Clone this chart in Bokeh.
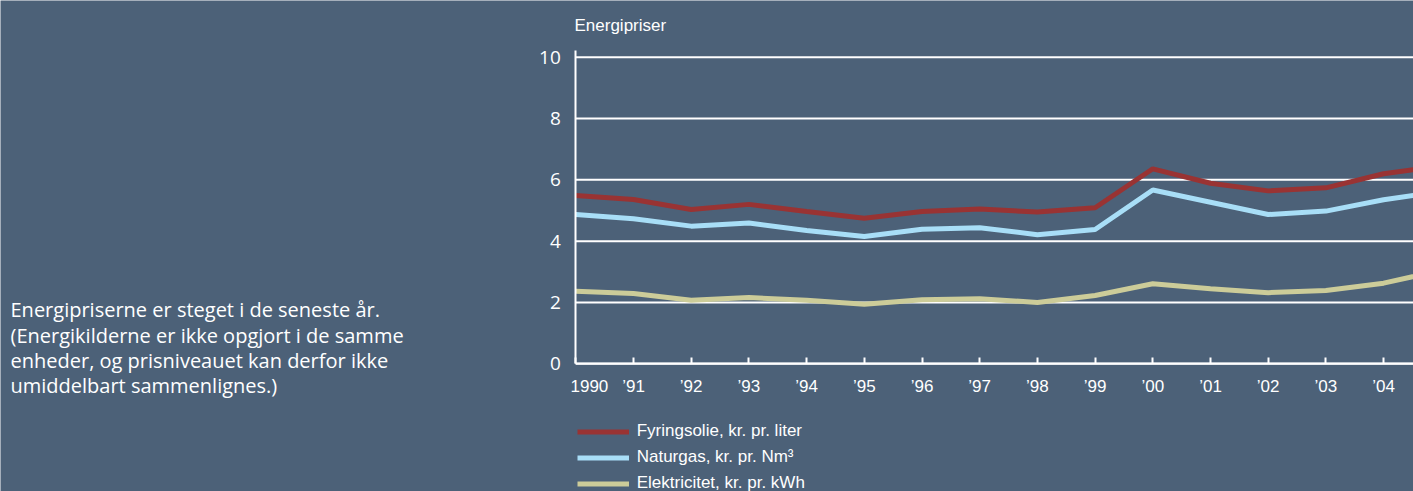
from bokeh.plotting import figure
from bokeh.models import FixedTicker, Label, Legend, LegendItem, Range1d
from bokeh.embed import file_html
from bokeh.resources import INLINE

# ---------------- data ----------------
years = list(range(1990, 2006))
fyringsolie = [5.49, 5.36, 5.03, 5.20, 4.97, 4.75, 4.97, 5.05, 4.95, 5.09, 6.36, 5.89, 5.64, 5.74, 6.20, 6.45]
naturgas = [4.87, 4.73, 4.49, 4.59, 4.35, 4.15, 4.39, 4.44, 4.21, 4.38, 5.67, 5.27, 4.87, 4.98, 5.35, 5.62]
elektricitet = [2.37, 2.29, 2.07, 2.16, 2.07, 1.94, 2.09, 2.12, 2.00, 2.23, 2.61, 2.45, 2.32, 2.39, 2.63, 3.05]
series_names = ["Fyringsolie, kr. pr. liter", "Naturgas, kr. pr. Nm³", "Elektricitet, kr. pr. kWh"]
tick_years = list(range(1990, 2005))
tick_labels = ["1990"] + ["’%02d" % (y % 100) for y in range(1991, 2005)]
y_ticks = [0, 2, 4, 6, 8, 10]
title_text = "Energipriser"
note_lines = [
    "Energipriserne er steget i de seneste år.",
    "(Energikilderne er ikke opgjort i de samme",
    "enheder, og prisniveauet kan derfor ikke",
    "umiddelbart sammenlignes.)",
]

# ---------------- style ----------------
BG = "#4c6178"
RED = "#993333"
BLUE = "#a8def7"
KHAKI = "#cccc99"
WHITE = "#ffffff"
NARROW = "Liberation Sans"
HUMAN = "Open Sans"

W, H = 1413, 491
# page-pixel geometry of the chart frame: year 1990 at x=575.3, 57.7 px per year;
# value 0 at y=363.3, 30.66 px per unit
PX0, PPY = 575.3, 57.7
PY0, PPU = 363.3, 30.66

def dx(px):
    return 1990 + (px - PX0) / PPY

def dy(py):
    return (PY0 - py) / PPU

p = figure(width=W, height=H, x_range=Range1d(dx(0), dx(W)), y_range=Range1d(dy(H), dy(0)),
           output_backend="svg", toolbar_location=None,
           min_border=0, min_border_left=0, min_border_right=0, min_border_top=0, min_border_bottom=0,
           background_fill_color=BG, border_fill_color=BG, outline_line_color=None)

# horizontal grid lines, only to the right of the value axis
p.xgrid.grid_line_color = None
p.ygrid.grid_line_color = None
p.segment(x0=[tick_years[0]] * len(y_ticks), x1=[years[-1] + 5] * len(y_ticks),
          y0=y_ticks, y1=y_ticks, line_color=WHITE, line_width=2)

r1 = p.line(years, fyringsolie, line_color=RED, line_width=5)
r2 = p.line(years, naturgas, line_color=BLUE, line_width=5)
r3 = p.line(years, elektricitet, line_color=KHAKI, line_width=5)

top_value = dy(50)

p.yaxis.fixed_location = tick_years[0]
p.yaxis.bounds = (0, top_value)
p.yaxis.ticker = FixedTicker(ticks=y_ticks)
p.yaxis.axis_line_color = WHITE
p.yaxis.axis_line_width = 2
p.yaxis.major_tick_line_color = None
p.yaxis.major_tick_in = 0
p.yaxis.major_tick_out = 0
p.yaxis.minor_tick_line_color = None
p.yaxis.major_label_standoff = 15
p.yaxis.major_label_text_color = WHITE
p.yaxis.major_label_text_font = HUMAN
p.yaxis.major_label_text_font_size = "19px"

p.xaxis.fixed_location = 0
p.xaxis.bounds = (tick_years[0], years[-1] + 5)
p.xaxis.ticker = FixedTicker(ticks=tick_years)
overrides = {y: lab for y, lab in zip(tick_years, tick_labels)}
overrides[tick_years[0]] = ""
p.xaxis.major_label_overrides = overrides
p.xaxis.axis_line_color = WHITE
p.xaxis.axis_line_width = 2
p.xaxis.major_tick_in = 6
p.xaxis.major_tick_out = 0
p.xaxis.major_tick_line_color = WHITE
p.xaxis.major_tick_line_width = 2
p.xaxis.minor_tick_line_color = None
p.xaxis.major_label_standoff = 13
p.xaxis.major_label_text_color = WHITE
p.xaxis.major_label_text_font = NARROW
p.xaxis.major_label_text_font_size = "17px"

# first year label sits right of its tick, as in the original
p.add_layout(Label(x=dx(570), y=dy(385.8), text=tick_labels[0], text_color=WHITE,
                   text_font=NARROW, text_font_size="17px", text_align="left",
                   text_baseline="middle"))

p.add_layout(Label(x=dx(574), y=dy(25), text=title_text, text_color=WHITE,
                   text_font=NARROW, text_font_size="17px", text_align="left",
                   text_baseline="middle"))

for i, line in enumerate(note_lines):
    p.add_layout(Label(x=dx(10), y=dy(309.2 + 25.3 * i), text=line, text_color=WHITE,
                       text_font=HUMAN, text_font_size="20px", text_align="left",
                       text_baseline="middle"))

legend = Legend(items=[LegendItem(label=series_names[0], renderers=[r1]),
                       LegendItem(label=series_names[1], renderers=[r2]),
                       LegendItem(label=series_names[2], renderers=[r3])],
                location=(576.7, -2.5), orientation="vertical",
                glyph_width=52, glyph_height=21, label_height=21, label_standoff=8,
                spacing=5, padding=0, margin=0,
                background_fill_alpha=0, border_line_color=None,
                label_text_color=WHITE, label_text_font=NARROW, label_text_font_size="17px")
p.add_layout(legend)

html = file_html(p, INLINE)
html = html.replace("<body>", '<body style="background-color:%s;">' % BG, 1)
open("out.html", "w").write(html)
